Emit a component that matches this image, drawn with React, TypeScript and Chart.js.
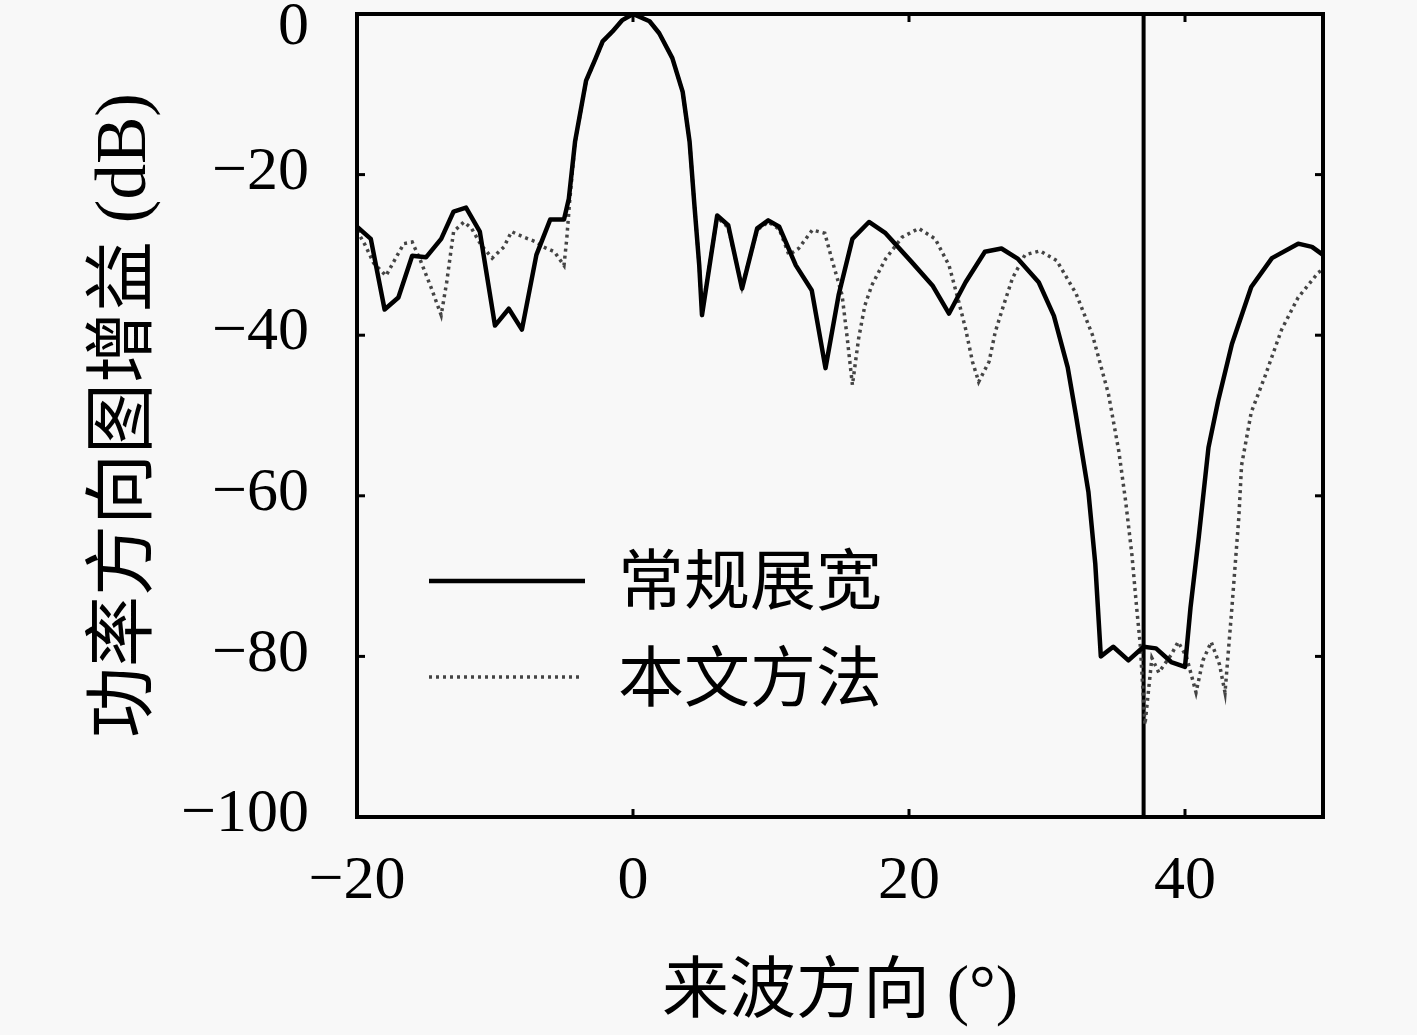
import { useEffect, useRef } from "react"
import { Chart, registerables } from "chart.js"

Chart.register(...registerables)

// 常规展宽 (solid)
const conventionalAngles = [
  -20, -19, -18, -17, -16, -15, -13.9, -13, -12.1, -11.1, -10, -9, -8.05, -7, -6, -5, -4.65,
  -4.2, -3.4, -2.7, -2.2, -1.5, -0.8, 0, 1.2, 1.9, 2.85, 3.6, 4.1, 4.45, 4.8, 5.0, 6.1, 6.9,
  7.9, 9.0, 9.8, 10.6, 11.8, 12.95, 13.95, 14.9, 15.9, 17.1, 18.3, 20.2, 21.7, 22.9, 24.1,
  25.5, 26.7, 27.9, 29.4, 30.5, 31.5, 32.1, 33.0, 33.5, 33.9, 34.8, 35.9, 37.0, 37.9, 39.0,
  40.0, 40.4, 41.0, 41.7, 42.4, 43.4, 44.8, 46.3, 48.2, 49.2, 50,
]
const conventionalGain = [
  -26.5, -28.0, -36.8, -35.3, -30.1, -30.3, -28.0, -24.6, -24.1, -27.1, -38.8, -36.7, -39.3,
  -30.0, -25.6, -25.6, -23.0, -15.9, -8.3, -5.5, -3.4, -2.2, -0.8, 0, -0.9, -2.4, -5.5, -9.7,
  -15.9, -23.8, -31.3, -37.5, -25.1, -26.3, -34.2, -26.7, -25.7, -26.5, -31.3, -34.4, -44.1,
  -35.0, -28.0, -25.9, -27.3, -30.9, -33.8, -37.3, -33.4, -29.6, -29.2, -30.5, -33.4, -37.6,
  -44.0, -50.0, -59.5, -68.5, -80.0, -78.8, -80.5, -78.8, -79.0, -80.7, -81.3, -73.9, -65.1,
  -54.0, -48.2, -41.1, -34.0, -30.4, -28.6, -29.0, -30.0,
]

// 本文方法 (dotted)
const proposedAngles = [
  -20, -19.4, -18.8, -17.9, -17.1, -16.6, -16.0, -15.4, -14.6, -13.9, -13.5, -13.2, -13.0,
  -12.25, -11.7, -11.0, -10.2, -9.35, -8.8, -7.9, -7.0, -6.5, -5.7, -5.0, -4.8, -4.6, -4.2,
  -3.4, -2.7, -2.2, -1.5, -0.8, 0, 1.2, 1.9, 2.85, 3.6, 4.1, 4.45, 4.8, 5.0, 6.1, 6.9, 7.9,
  9.0, 9.8, 10.6, 11.3, 12.0, 13.0, 13.9, 14.4, 15.15, 15.5, 15.9, 16.35, 16.8, 17.3, 18.3,
  19.5, 20.7, 21.9, 22.9, 23.6, 24.1, 24.6, 25.05, 25.8, 26.25, 26.85, 27.5, 28.4, 29.5, 30.7,
  32.1, 33.3, 34.45, 35.2, 35.7, 36.15, 36.5, 36.75, 37.1, 37.6, 38.1, 39.0, 39.5, 40.1, 40.8,
  41.3, 41.9, 42.5, 42.9, 43.4, 43.9, 44.1, 44.8, 45.8, 47.0, 48.2, 49.66, 50,
]
const proposedGain = [
  -27.0, -28.8, -31.0, -32.6, -30.1, -28.6, -28.4, -30.7, -34.2, -37.5, -33.4, -29.6, -27.1,
  -25.9, -26.7, -28.8, -30.4, -29.0, -27.1, -27.8, -28.4, -29.0, -29.6, -31.3, -28.0, -23.5,
  -16.0, -8.4, -5.5, -3.5, -2.2, -0.8, 0, -0.9, -2.4, -5.5, -9.7, -15.9, -23.8, -31.3, -37.0,
  -25.3, -26.6, -34.0, -26.9, -25.9, -26.8, -30.0, -29.2, -26.9, -27.3, -30.5, -35.0, -40.0,
  -46.2, -40.4, -36.3, -33.8, -30.5, -27.8, -26.7, -28.0, -31.3, -35.8, -39.2, -43.3, -45.8,
  -43.3, -39.6, -36.3, -32.9, -30.0, -29.5, -30.7, -34.8, -40.0, -47.3, -54.4, -60.7, -67.3,
  -74.0, -78.4, -88.5, -80.2, -82.0, -79.8, -78.2, -80.0, -84.5, -80.5, -78.2, -81.0, -84.5,
  -73.9, -62.7, -56.2, -49.6, -45.1, -39.3, -35.3, -32.2, -31.8,
]

const nullAngle = 37
const xTickValues = [-20, 0, 20, 40]
const yTickValues = [-100, -80, -60, -40, -20, 0]
const legendLabels = ["常规展宽", "本文方法"]

const SERIF = "'Liberation Serif', 'DejaVu Serif', serif"
const MIXED = "'Liberation Serif', 'Noto Sans CJK SC', serif"

const fmt = (v: number) => (v < 0 ? "\u2212" + Math.abs(v) : String(v))

const framePlugin = {
  id: "frame",
  afterDatasetsDraw(chart: any) {
    const { ctx, chartArea: a, scales } = chart
    const seg = (x1: number, y1: number, x2: number, y2: number) => {
      ctx.beginPath()
      ctx.moveTo(x1, y1)
      ctx.lineTo(x2, y2)
      ctx.stroke()
    }
    ctx.save()
    ctx.strokeStyle = "#000"
    ctx.lineWidth = 3
    const len = 8
    xTickValues.forEach((v) => {
      const px = scales.x.getPixelForValue(v)
      seg(px, a.bottom, px, a.bottom - len)
      seg(px, a.top, px, a.top + len)
    })
    yTickValues.forEach((v) => {
      const py = scales.y.getPixelForValue(v)
      seg(a.left, py, a.left + len, py)
      seg(a.right, py, a.right - len, py)
    })
    ctx.lineWidth = 4
    ctx.strokeRect(a.left, a.top, a.right - a.left, a.bottom - a.top)

    // y tick labels; the top one kept inside the canvas
    ctx.fillStyle = "#000"
    ctx.font = `62px ${SERIF}`
    ctx.textAlign = "right"
    ctx.textBaseline = "middle"
    yTickValues.forEach((v) => {
      const py = scales.y.getPixelForValue(v)
      ctx.fillText(fmt(v), a.left - 48, Math.max(py - 2, a.top + 14))
    })

    // legend inside the plot
    const lx1 = a.left + 72
    const lx2 = a.left + 228
    const ys = [a.top + 567, a.top + 663]
    ctx.lineWidth = 4.5
    seg(lx1, ys[0], lx2, ys[0])
    ctx.setLineDash([3, 4])
    ctx.lineWidth = 3.5
    ctx.strokeStyle = "#444"
    seg(lx1, ys[1], lx2 - 4, ys[1])
    ctx.setLineDash([])
    ctx.font = `66px ${MIXED}`
    ctx.textAlign = "left"
    ctx.fillText(legendLabels[0], a.left + 261, ys[0] + 6)
    ctx.fillText(legendLabels[1], a.left + 261, ys[1] + 7)
    ctx.restore()
  },
}

export default function App() {
  const canvasRef = useRef<HTMLCanvasElement | null>(null)
  const chartRef = useRef<Chart | null>(null)

  useEffect(() => {
    if (!canvasRef.current) return
    const ctx = canvasRef.current.getContext("2d")
    if (!ctx) return
    if (chartRef.current) chartRef.current.destroy()

    chartRef.current = new Chart(ctx, {
      type: "line",
      data: {
        datasets: [
          {
            label: legendLabels[0],
            data: conventionalAngles.map((x, i) => ({ x, y: conventionalGain[i] })),
            borderColor: "#000",
            borderWidth: 4.5,
            borderJoinStyle: "round",
            pointRadius: 0,
            tension: 0,
          },
          {
            label: legendLabels[1],
            data: proposedAngles.map((x, i) => ({ x, y: proposedGain[i] })),
            borderColor: "#444",
            borderWidth: 3.5,
            borderDash: [3, 4],
            pointRadius: 0,
            tension: 0,
          },
          {
            label: "null",
            data: [
              { x: nullAngle, y: 0 },
              { x: nullAngle, y: -100 },
            ],
            borderColor: "#000",
            borderWidth: 4,
            pointRadius: 0,
          },
        ],
      },
      options: {
        responsive: true,
        maintainAspectRatio: false,
        animation: false,
        layout: { padding: { left: 0, right: 94, top: 14, bottom: 0 } },
        plugins: {
          legend: { display: false },
          tooltip: { enabled: false },
        },
        scales: {
          x: {
            type: "linear",
            min: -20,
            max: 50,
            grid: { display: false },
            border: { display: false },
            afterBuildTicks: (scale: any) => {
              scale.ticks = xTickValues.map((value) => ({ value }))
            },
            afterFit: (scale: any) => {
              scale.height = 218
              scale.paddingLeft = 0
              scale.paddingRight = 0
            },
            ticks: {
              color: "#000",
              padding: 20,
              maxRotation: 0,
              autoSkip: false,
              font: { family: SERIF, size: 62 },
              callback: (v: any) => fmt(Number(v)),
            },
            title: {
              display: true,
              text: "来波方向 (°)",
              color: "#000",
              font: { family: MIXED, size: 67 },
              padding: { top: 0, bottom: 0 },
            },
          },
          y: {
            type: "linear",
            min: -100,
            max: 0,
            grid: { display: false },
            border: { display: false },
            afterBuildTicks: (scale: any) => {
              scale.ticks = yTickValues.map((value) => ({ value }))
            },
            afterFit: (scale: any) => {
              scale.width = 357
              scale.paddingTop = 0
              scale.paddingBottom = 0
            },
            ticks: { display: false },
            title: {
              display: true,
              text: "功率方向图增益 (dB)",
              color: "#000",
              font: { family: MIXED, size: 71 },
              padding: { top: 84, bottom: 0 },
            },
          },
        },
      },
      plugins: [framePlugin],
    })

    return () => {
      if (chartRef.current) {
        chartRef.current.destroy()
        chartRef.current = null
      }
    }
  }, [])

  return (
    <div
      style={{
        position: "fixed",
        left: 0,
        top: 0,
        width: 1417,
        height: 1035,
        background: "#f8f8f8",
      }}
    >
      <canvas ref={canvasRef}></canvas>
    </div>
  )
}
